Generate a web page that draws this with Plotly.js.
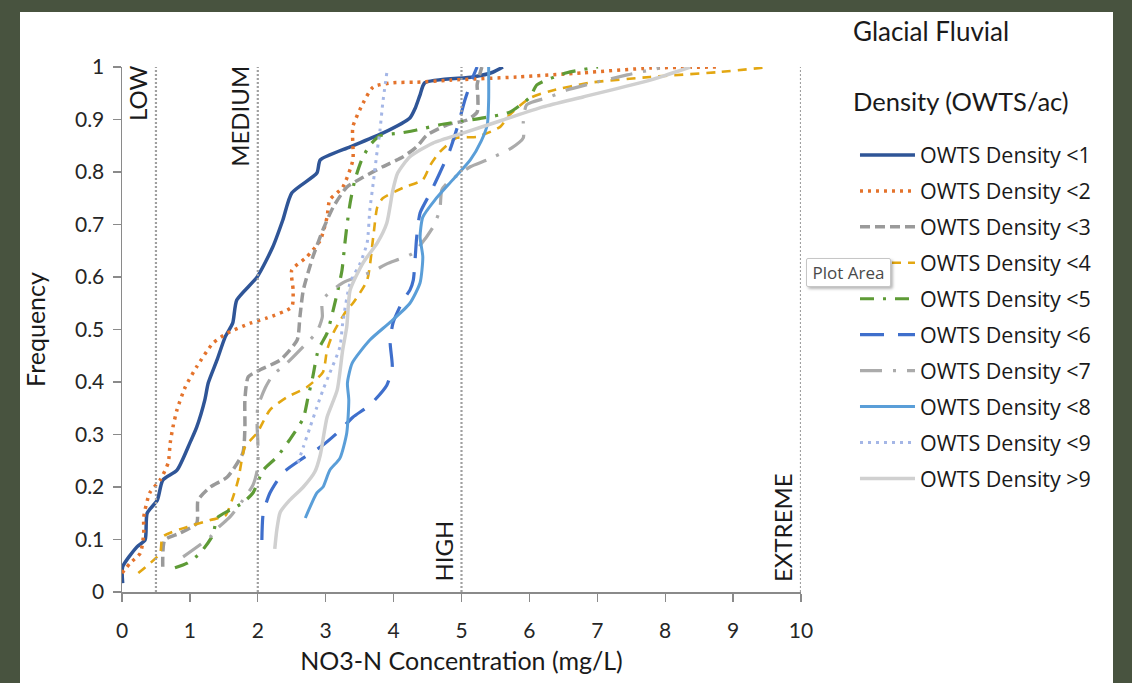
<!DOCTYPE html>
<html>
<head>
<meta charset="utf-8">
<script src="https://cdn.plot.ly/plotly-3.0.1.min.js"></script>
<style>
html,body{margin:0;padding:0;background:#48533F;width:1132px;height:683px;overflow:hidden}
#white{position:absolute;left:20px;top:12px;width:1093px;height:671px;background:#ffffff}
#chart{position:absolute;left:0;top:0;width:1132px;height:683px}
#tip{position:absolute;left:806px;top:258px;width:83px;height:27px;background:#fff;border:1px solid #c6c6c6;border-radius:2px;box-shadow:2px 2px 3px rgba(0,0,0,0.28);font-family:'Open Sans',sans-serif;font-size:17px;color:#4a4a4a;line-height:27px;text-align:center}
</style>
</head>
<body>
<div id="white"></div>
<div id="chart"></div>
<div id="tip">Plot Area</div>
<script>
// ---- data ----
const seriesNames = ['OWTS Density <1','OWTS Density <2','OWTS Density <3','OWTS Density <4','OWTS Density <5',
                     'OWTS Density <6','OWTS Density <7','OWTS Density <8','OWTS Density <9','OWTS Density >9'];

const s1x = [0.01,0.01,0.22,0.34,0.37,0.52,0.60,0.81,1.00,1.10,1.22,1.27,1.40,1.52,1.63,1.69,1.99,2.22,2.37,2.50,2.87,2.92,3.36,3.84,4.24,4.32,4.39,4.46,5.17,5.46,5.61];
const s1y = [0.017,0.048,0.086,0.099,0.150,0.175,0.213,0.232,0.284,0.314,0.366,0.398,0.442,0.486,0.512,0.556,0.600,0.657,0.709,0.760,0.798,0.823,0.848,0.874,0.903,0.922,0.947,0.970,0.981,0.990,1.0];

const s2x = [0,0.12,0.27,0.32,0.32,0.41,0.56,0.68,0.71,0.75,0.81,0.93,1.10,1.34,1.55,1.89,2.14,2.50,2.52,2.50,2.72,2.92,3.02,3.06,3.25,3.40,3.40,3.55,3.70,3.99,4.34,4.83,5.82,6.79,7.78,8.81];
const s2y = [0.036,0.055,0.074,0.112,0.143,0.189,0.213,0.246,0.284,0.314,0.347,0.390,0.429,0.474,0.493,0.512,0.522,0.543,0.575,0.613,0.638,0.670,0.714,0.747,0.771,0.823,0.886,0.931,0.962,0.970,0.971,0.975,0.981,0.989,0.998,1.0];

const s3x = [0.60,0.63,0.85,1.10,1.12,1.30,1.55,1.78,1.81,1.81,1.86,2.03,2.33,2.58,2.62,2.67,2.81,2.96,3.11,3.31,3.55,3.84,4.14,4.34,4.49,4.79,5.08,5.23,5.24,5.23,5.30];
const s3y = [0.048,0.099,0.112,0.131,0.175,0.200,0.219,0.265,0.314,0.366,0.410,0.423,0.442,0.480,0.524,0.575,0.638,0.690,0.733,0.771,0.790,0.810,0.829,0.848,0.870,0.890,0.899,0.914,0.947,0.966,1.0];

const s4x = [0.24,0.56,0.60,0.96,1.30,1.52,1.62,1.71,1.81,1.99,2.18,2.43,2.72,2.96,3.02,3.11,3.31,3.40,3.61,3.70,3.76,3.84,4.14,4.43,4.54,4.68,4.93,5.23,5.57,5.71,6.01,6.30,6.89,7.78,8.76,9.54];
const s4y = [0.036,0.074,0.105,0.124,0.137,0.145,0.175,0.213,0.276,0.303,0.347,0.371,0.390,0.419,0.461,0.493,0.537,0.550,0.594,0.676,0.733,0.750,0.770,0.785,0.813,0.838,0.865,0.867,0.886,0.909,0.941,0.954,0.970,0.981,0.990,1.0];

const s5x = [0.78,0.96,1.15,1.34,1.40,1.59,1.78,1.93,2.08,2.28,2.47,2.67,2.74,2.81,2.89,3.02,3.11,3.18,3.24,3.28,3.31,3.36,3.43,3.53,3.65,3.80,4.09,4.34,4.68,5.02,5.32,5.71,6.01,6.11,6.55,7.01];
const s5y = [0.046,0.055,0.074,0.109,0.141,0.156,0.170,0.189,0.232,0.257,0.290,0.331,0.371,0.410,0.461,0.493,0.537,0.575,0.613,0.661,0.695,0.741,0.785,0.823,0.851,0.869,0.874,0.880,0.890,0.897,0.903,0.914,0.943,0.966,0.989,1.0];

const s6x = [2.06,2.08,2.18,2.37,2.62,2.92,3.17,3.40,3.65,3.90,3.98,3.95,3.99,4.14,4.24,4.29,4.34,4.39,4.54,4.68,4.83,4.95,5.05,5.15,5.23];
const s6y = [0.099,0.150,0.189,0.227,0.251,0.276,0.303,0.333,0.356,0.394,0.429,0.474,0.512,0.556,0.575,0.594,0.676,0.722,0.760,0.798,0.842,0.890,0.937,0.975,1.0];

const s7x = [0.90,1.30,1.41,1.59,1.78,1.93,2.00,2.00,1.99,2.00,2.11,2.22,2.43,2.72,2.87,2.95,2.95,3.25,3.68,3.90,4.29,4.58,4.68,4.71,4.79,5.13,5.38,5.74,5.91,5.91,5.96,6.30,6.55,6.99,7.44,7.92];
const s7y = [0.067,0.105,0.122,0.143,0.175,0.204,0.238,0.290,0.314,0.352,0.389,0.413,0.436,0.474,0.495,0.524,0.556,0.589,0.610,0.625,0.646,0.695,0.728,0.766,0.779,0.810,0.823,0.846,0.865,0.895,0.928,0.943,0.956,0.971,0.985,0.998];

const s8x = [2.70,2.87,2.96,3.06,3.21,3.31,3.34,3.32,3.39,3.65,3.95,4.24,4.39,4.43,4.39,4.43,4.61,4.87,5.13,5.29,5.38,5.40,5.40];
const s8y = [0.141,0.189,0.200,0.232,0.255,0.303,0.366,0.398,0.436,0.480,0.514,0.550,0.589,0.638,0.676,0.714,0.747,0.785,0.823,0.859,0.890,0.937,1.0];

const s9x = [2.59,2.67,2.77,2.87,2.96,3.06,3.21,3.25,3.36,3.51,3.61,3.65,3.70,3.76,3.80,3.84,3.90];
const s9y = [0.246,0.276,0.314,0.352,0.385,0.417,0.467,0.512,0.589,0.627,0.665,0.728,0.779,0.842,0.880,0.931,0.989];

const s10x = [2.25,2.28,2.33,2.47,2.67,2.84,2.92,2.96,3.02,3.17,3.25,3.31,3.36,3.55,3.76,3.90,3.99,4.06,4.24,4.58,5.02,5.61,6.20,6.79,7.78,8.37];
const s10y = [0.082,0.118,0.152,0.175,0.200,0.229,0.261,0.290,0.333,0.385,0.461,0.505,0.575,0.627,0.665,0.703,0.766,0.798,0.829,0.855,0.874,0.899,0.924,0.943,0.975,1.0];

const refX = [0.5, 2, 5, 10];
const refLabels = ['LOW', 'MEDIUM', 'HIGH', 'EXTREME'];
const xTickVals = [0,1,2,3,4,5,6,7,8,9,10];
const yTickVals = [0,0.1,0.2,0.3,0.4,0.5,0.6,0.7,0.8,0.9,1];

// ---- styles ----
const xs = [s1x,s2x,s3x,s4x,s5x,s6x,s7x,s8x,s9x,s10x];
const ys = [s1y,s2y,s3y,s4y,s5y,s6y,s7y,s8y,s9y,s10y];
const styles = [
  {color:'#2F5597', width:3.5, dash:'solid'},
  {color:'#E4732C', width:3.5, dash:'3px,5px'},
  {color:'#9A9A9A', width:3.5, dash:'10px,5px'},
  {color:'#E3A712', width:2.6, dash:'9px,7px'},
  {color:'#5E9B36', width:3.2, dash:'14px,9px,3px,9px'},
  {color:'#3F6FCC', width:3.2, dash:'24px,14px'},
  {color:'#ABABAB', width:3.2, dash:'22px,11px,3px,11px'},
  {color:'#5A9ED8', width:3.0, dash:'solid'},
  {color:'#A4B6E6', width:3.0, dash:'3px,5px'},
  {color:'#D0D0D0', width:3.5, dash:'solid'}
];

const traces = xs.map((x,i) => ({
  type:'scatter', mode:'lines', x:x, y:ys[i], name:seriesNames[i],
  legendgroup:'g'+i,
  line:{color:styles[i].color, width:styles[i].width, dash:styles[i].dash, shape:'spline', smoothing:0.6},
  hoverinfo:'skip'
}));

const shapes = refX.map(v => ({
  type:'line', xref:'x', yref:'y', x0:v, x1:v, y0:0, y1:1,
  line:{color:'#A0A0A0', width:2.2, dash:'2px,2px'}
}));

const annotations = refX.map((v,i) => ({
  xref:'x', yref:'y', x:v, y:(i<2 ? 1 : 0),
  xanchor:'right', yanchor:(i<2 ? 'top' : 'bottom'),
  xshift:-2, yshift:(i<2 ? 3 : 8),
  text:refLabels[i], textangle:-90, showarrow:false,
  font:{family:'Lato', size:24, color:'#1a1a1a'}
}));
annotations.push({xref:'paper', yref:'paper', x:1.0736, y:1.0686, xanchor:'left', yanchor:'middle',
  text:'Glacial Fluvial', showarrow:false, font:{family:'Lato', size:26, color:'#1a1a1a'}});
annotations.push({xref:'paper', yref:'paper', x:1.0736, y:0.9352, xanchor:'left', yanchor:'middle',
  text:'Density (OWTS/ac)', showarrow:false, font:{family:'Lato', size:25.5, color:'#1a1a1a'}});

const layout = {
  width:1132, height:683,
  margin:{l:122, r:331, t:67, b:91, pad:0},
  paper_bgcolor:'rgba(0,0,0,0)', plot_bgcolor:'rgba(0,0,0,0)',
  showlegend:true,
  xaxis:{range:[0,10], tickvals:xTickVals, ticks:'outside', ticklen:8, tickcolor:'#8a8a8a', tickwidth:1.3,
    showline:true, linecolor:'#8a8a8a', linewidth:1.5, showgrid:false, zeroline:false,
    ticklabelstandoff:11, tickfont:{family:'Lato', size:21, color:'#262626'},
    title:{text:'NO3-N Concentration (mg/L)', standoff:12, font:{family:'Lato', size:25, color:'#1a1a1a'}},
    fixedrange:true},
  yaxis:{range:[0,1], tickvals:yTickVals, ticks:'outside', ticklen:8, tickcolor:'#8a8a8a', tickwidth:1.3,
    showline:true, linecolor:'#8a8a8a', linewidth:1.5, showgrid:false, zeroline:false,
    ticklabelstandoff:4, tickfont:{family:'Lato', size:21, color:'#262626'},
    title:{text:'Frequency', standoff:22, font:{family:'Lato', size:25, color:'#1a1a1a'}},
    fixedrange:true},
  legend:{x:1.0795, xanchor:'left', y:0.8715, yanchor:'top', traceorder:'grouped', tracegroupgap:5,
    itemwidth:55,
    bgcolor:'rgba(0,0,0,0)', borderwidth:0, font:{family:'Open Sans', size:21.5, color:'#1a1a1a'}},
  shapes:shapes,
  annotations:annotations
};

Plotly.newPlot('chart', traces, layout, {displayModeBar:false, staticPlot:true});
</script>
</body>
</html>
